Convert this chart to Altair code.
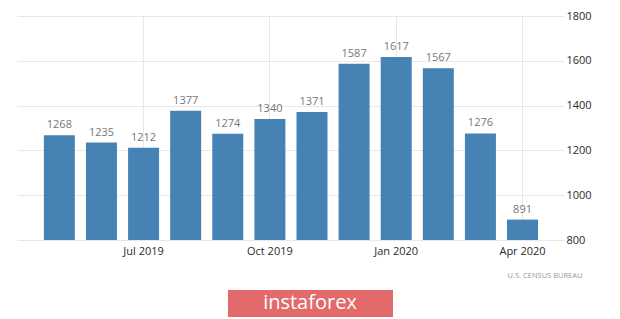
import altair as alt
import pandas as pd

months = ["May 2019", "Jun 2019", "Jul 2019", "Aug 2019", "Sep 2019", "Oct 2019",
          "Nov 2019", "Dec 2019", "Jan 2020", "Feb 2020", "Mar 2020", "Apr 2020"]
values = [1268, 1235, 1212, 1377, 1274, 1340, 1371, 1587, 1617, 1567, 1276, 891]
x_ticks = ["Jul 2019", "Oct 2019", "Jan 2020", "Apr 2020"]
y_ticks = [800, 1000, 1200, 1400, 1600, 1800]

df = pd.DataFrame({"month": months, "value": values})

FONT = "Open Sans"

x = alt.X("month:N", sort=months, title=None,
          scale=alt.Scale(paddingInner=0.264, paddingOuter=0.58, align=0.55),
          axis=alt.Axis(values=x_ticks, grid=True, gridColor="#e8e8e8", domain=False,
                        ticks=False, labelAngle=0, labelFont=FONT, labelFontSize=11,
                        labelColor="#2a2a2a", labelPadding=5))
y = alt.Y("value:Q", title=None,
          scale=alt.Scale(domain=[800, 1800], nice=False, zero=False, clamp=True),
          axis=alt.Axis(orient="right", values=y_ticks, format="d", grid=True,
                        gridColor="#e8e8e8", domain=False, tickSize=3, tickColor="#dddddd",
                        labelFont=FONT, labelFontSize=11, labelColor="#2a2a2a",
                        labelPadding=3))

base = alt.Chart(df)
bars = base.mark_bar(color="#4682b4").encode(x=x, y=y, y2=alt.datum(800))
labels = base.mark_text(dy=-5, baseline="bottom", font=FONT, fontSize=11,
                        color="#777777").encode(x=x, y="value:Q", text="value:Q")

footer = alt.Chart(pd.DataFrame({"t": ["U.S.  CENSUS  BUREAU"]})).mark_text(
    font=FONT, fontSize=7.5, color="#999999", align="center", baseline="middle"
).encode(x=alt.value(528), y=alt.value(260), text="t:N")

wm_rect = alt.Chart(pd.DataFrame({"a": [1]})).mark_rect(color="#e26a6a").encode(
    x=alt.value(211), x2=alt.value(376), y=alt.value(274), y2=alt.value(301))
wm_text = alt.Chart(pd.DataFrame({"t": ["instaforex"]})).mark_text(
    font=FONT, fontSize=20, color="white", align="center", baseline="middle"
).encode(x=alt.value(293), y=alt.value(287), text="t:N")

chart = alt.layer(bars, labels, footer, wm_rect, wm_text).properties(
    width=543, height=224,
    background="white",
    autosize=alt.AutoSizeParams(type="none"),
    padding={"left": 17, "top": 16, "right": 60, "bottom": 79},
).configure_view(stroke="transparent", strokeWidth=0)

chart.save("out.html", embed_options={"renderer": "svg", "actions": False})
